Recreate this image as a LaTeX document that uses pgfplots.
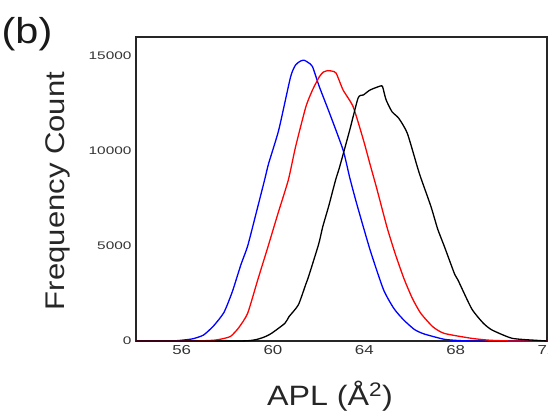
\documentclass[border=0pt]{standalone}
\usepackage{fontspec}
\setmainfont{Liberation Sans}[FakeStretch=1.15]
\usepackage{pgfplots}
\pgfplotsset{compat=1.18}
\pgfplotstableread{
x y
54 0
55.5 0
56.0 40
56.5 120
56.96 316
57.4 800
57.85 1500
58.22 2600
58.59 4000
58.89 5000
59.26 6720
59.63 8470
59.81 9350
60.25 11100
60.77 13900
60.99 14530
61.2 14730
61.36 14780
61.55 14650
61.73 14440
62.03 13380
62.48 11980
63.07 10050
63.36 8600
63.66 7250
64.25 4800
64.84 2700
65.3 1700
65.73 1100
66.2 600
66.62 370
67.5 90
68.2 20
69 0
72 0
}\blue
\pgfplotstableread{
x y
54 0
56.5 0
57.4 40
57.8 120
58.15 250
58.5 700
58.89 1460
59.33 3210
59.78 4960
60.22 6720
60.67 8470
60.99 10230
61.44 12330
61.73 13210
62.03 13910
62.2 14150
62.4 14230
62.6 14200
62.77 14090
63.07 13210
63.51 12330
63.96 10580
64.25 9300
64.55 8000
64.99 6000
65.35 4600
65.73 3300
66.1 2250
66.47 1460
67.0 750
67.5 400
68.7 140
69.5 40
70.5 0
72 0
}\red
\pgfplotstableread{
x y
54 0
58.5 0
59.2 60
59.6 200
59.93 400
60.52 930
60.7 1280
61.11 1900
61.44 3000
61.56 3400
62.0 5100
62.18 6020
62.44 7100
62.74 8470
62.92 9170
63.36 11100
63.73 12800
63.96 12950
64.25 13210
64.7 13420
64.8 13380
64.95 12700
65.21 12070
65.51 11720
65.88 10940
66.32 9170
66.47 8600
66.92 7070
67.21 5900
67.51 4960
67.96 3500
68.1 3210
68.7 1700
69.2 950
69.59 580
70.48 140
71.6 30
72 0
}\black
\begin{document}
\begin{tikzpicture}
\path[use as bounding box] (-136pt,-71pt) rectangle (412pt,341pt);
\begin{axis}[
  at={(0pt,0pt)}, anchor=origin,
  scale only axis, width=411pt, height=304pt,
  xmin=54, xmax=72, ymin=0, ymax=16000,
  xtick={56,60,64,68,72}, ytick={0,5000,10000,15000},
  major tick length=0pt,
  axis line style={line width=1.6pt, draw=black!85},
  /pgf/number format/assume math mode=true,
  scaled y ticks=false,
  yticklabel style={/pgf/number format/1000 sep={}, font=\fontsize{11}{12}\selectfont\addfontfeatures{FakeStretch=1.4}, text=black!80, xshift=-1pt},
  xticklabel style={font=\fontsize{13}{14}\selectfont\addfontfeatures{FakeStretch=1.3}, text=black!80, yshift=-1pt},
  clip=true,
]
\addplot[blue, line width=1.3pt, smooth, tension=0.35] table {\blue};
\addplot[red, line width=1.3pt, smooth, tension=0.35] table {\red};
\addplot[black, line width=1.3pt, smooth, tension=0.35] table {\black};
\end{axis}
\node[rotate=90, font=\fontsize{27}{30}\selectfont, text=black!85] at (-78pt,150pt) {Frequency Count};
\node[font=\fontsize{28}{30}\selectfont, text=black!85] at (194pt,-55pt) {APL (Å\textsuperscript{2})};
\node[font=\fontsize{36}{38}\selectfont, text=black!90] at (-109pt,307pt) {(b)};
\end{tikzpicture}
\end{document}
